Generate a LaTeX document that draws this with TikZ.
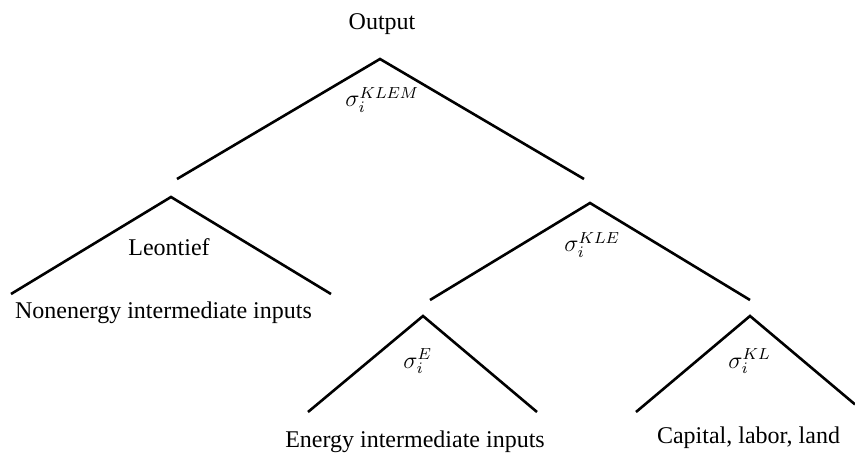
\documentclass[tikz,border=0pt]{standalone}
\usepackage{fontspec}
\setmainfont{Liberation Serif}
\begin{document}
\begin{tikzpicture}[x=0.5pt,y=-0.5pt,
  branch/.style={line width=1.3pt},
  lbl/.style={inner sep=0pt,font=\fontsize{12}{14}\selectfont},
  sig/.style={inner sep=0pt,anchor=base west,font=\fontsize{12}{14}\selectfont}]
\useasboundingbox (0,0) rectangle (855,459);
% top nest
\coordinate (topA) at (380,59);
\coordinate (topL) at (177,179);
\coordinate (topR) at (584,179);
% Leontief nest
\coordinate (leoA) at (171,197);
\coordinate (leoL) at (11,294);
\coordinate (leoR) at (331,294);
% KLE nest
\coordinate (kleA) at (590,203);
\coordinate (kleL) at (430,300);
\coordinate (kleR) at (750,300);
% E nest
\coordinate (eA) at (423,316);
\coordinate (eL) at (308,412);
\coordinate (eR) at (537,412);
% KL nest
\coordinate (klA) at (750,316);
\coordinate (klL) at (636,412);
\coordinate (klR) at (855,404.4);

\draw[branch] (topL) -- (topA) -- (topR);
\draw[branch] (leoL) -- (leoA) -- (leoR);
\draw[branch] (kleL) -- (kleA) -- (kleR);
\draw[branch] (eL) -- (eA) -- (eR);
\draw[branch] (klL) -- (klA) -- (klR);

\node[lbl,anchor=base] (out) at (382,29.5) {Output};
\node[sig] (sklem) at (345,107) {$\sigma_i^{KLEM}$};
\node[lbl,anchor=base] (leo) at (169,256) {Leontief};
\node[lbl,anchor=base] (non) at (163.5,319) {Nonenergy intermediate inputs};
\node[sig] (skle) at (564,252) {$\sigma_i^{KLE}$};
\node[sig] (se) at (403,368) {$\sigma_i^{E}$};
\node[sig] (skl) at (728,368) {$\sigma_i^{KL}$};
\node[lbl,anchor=base] (en) at (415,447) {Energy intermediate inputs};
\node[lbl,anchor=base] (cap) at (748.5,443) {Capital, labor, land};
\end{tikzpicture}
\end{document}
